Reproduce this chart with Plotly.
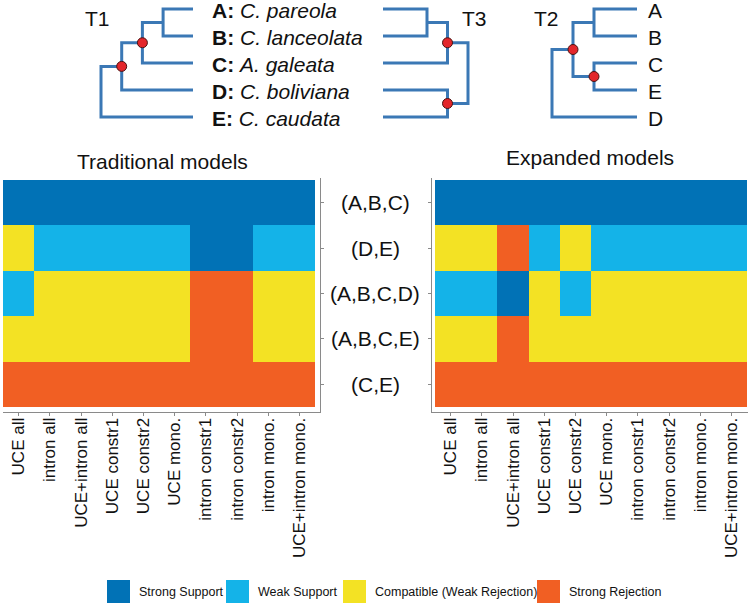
import plotly.graph_objects as go

# ---------------- data ----------------
rows = ["(A,B,C)", "(D,E)", "(A,B,C,D)", "(A,B,C,E)", "(C,E)"]
columns = ["UCE all", "intron all", "UCE+intron all", "UCE constr1", "UCE constr2",
           "UCE mono.", "intron constr1", "intron constr2", "intron mono.", "UCE+intron mono."]
support_levels = ["Strong Support", "Weak Support", "Compatible (Weak Rejection)", "Strong Rejection"]
level_colors = ["#0172b6", "#14b3e8", "#f3e224", "#f15f23"]

# level index per cell (0 strong support .. 3 strong rejection), rows x columns
traditional = [
    [0, 0, 0, 0, 0, 0, 0, 0, 0, 0],
    [2, 1, 1, 1, 1, 1, 0, 0, 1, 1],
    [1, 2, 2, 2, 2, 2, 3, 3, 2, 2],
    [2, 2, 2, 2, 2, 2, 3, 3, 2, 2],
    [3, 3, 3, 3, 3, 3, 3, 3, 3, 3],
]
expanded = [
    [0, 0, 0, 0, 0, 0, 0, 0, 0, 0],
    [2, 2, 3, 1, 2, 1, 1, 1, 1, 1],
    [1, 1, 0, 2, 1, 2, 2, 2, 2, 2],
    [2, 2, 3, 2, 2, 2, 2, 2, 2, 2],
    [3, 3, 3, 3, 3, 3, 3, 3, 3, 3],
]
panel_titles = ["Traditional models", "Expanded models"]

taxa = ["A", "B", "C", "D", "E"]
taxa_names = ["C. pareola", "C. lanceolata", "A. galeata", "C. boliviana", "C. caudata"]

tree_T1 = ((((("A", "B"), "C"), "D"), "E"))
tree_T3 = ((("A", "B"), "C"), ("D", "E"))
tree_T2 = ((("A", "B"), ("C", "E")), "D")

# ---------------- styling ----------------
W, H = 750, 603
FONT = "Liberation Sans, Arial, sans-serif"
TREE_COLOR = "#3b78b5"
DOT_COLOR = "#e3262b"
AXIS_COLOR = "#8a8a8a"

def py(p):  # pixel y -> paper
    return 1 - p / H

def px(p):
    return p / W

fig = go.Figure()

colorscale = [[i / 3, c] for i, c in enumerate(level_colors)]
ncol = len(columns)
nrow = len(rows)
xs = list(range(ncol))
ys = list(range(nrow))

fig.add_trace(go.Heatmap(z=traditional, x=xs, y=ys, colorscale=colorscale, zmin=0, zmax=3,
                         showscale=False, hoverinfo="skip", xaxis="x", yaxis="y"))
fig.add_trace(go.Heatmap(z=expanded, x=xs, y=ys, colorscale=colorscale, zmin=0, zmax=3,
                         showscale=False, hoverinfo="skip", xaxis="x2", yaxis="y2"))

# ---------------- trees ----------------
def draw_tree(tree, root_x, step, tip_x, tip_y0=9, tip_dy=27):
    counter = [0]
    paths_x, paths_y = [], []
    nodes = []

    def rec(node, depth):
        if isinstance(node, str):
            y = tip_y0 + tip_dy * counter[0]
            counter[0] += 1
            return (tip_x, y, frozenset([node]))
        kids = [rec(c, depth + 1) for c in node]
        x = root_x + step * depth
        kys = [k[1] for k in kids]
        y = (min(kys) + max(kys)) / 2
        a, b = kids[0], kids[-1]
        paths_x.extend([a[0], x, x, b[0], None])
        paths_y.extend([a[1], a[1], b[1], b[1], None])
        clade = frozenset().union(*[k[2] for k in kids])
        nodes.append((x, y, clade))
        return (x, y, clade)

    rec(tree, 0)
    fig.add_trace(go.Scatter(x=paths_x, y=paths_y, mode="lines", xaxis="x3", yaxis="y3",
                             line=dict(color=TREE_COLOR, width=3), hoverinfo="skip",
                             showlegend=False))
    marked = [frozenset(r.strip("()").split(",")) for r in rows]
    dx = [n[0] for n in nodes if n[2] in marked]
    dy = [n[1] for n in nodes if n[2] in marked]
    fig.add_trace(go.Scatter(x=dx, y=dy, mode="markers", xaxis="x3", yaxis="y3",
                             marker=dict(color=DOT_COLOR, size=10,
                                         line=dict(color="#4a1212", width=1)),
                             hoverinfo="skip", showlegend=False))

draw_tree(tree_T1, 101, 20.7, 193)
draw_tree(tree_T3, 468, -20.5, 383)
draw_tree(tree_T2, 552, 21, 637)

annotations = []
# T1 tip labels
for i, (t, nm) in enumerate(zip(taxa, taxa_names)):
    annotations.append(dict(x=210, y=10 + 27 * i, xref="x3", yref="y3", xanchor="left",
                            yanchor="middle", showarrow=False,
                            text=f"<b>{t}:</b> <i>{nm}</i>",
                            font=dict(family=FONT, size=21, color="#111")))

def tip_order(node):
    if isinstance(node, str):
        return [node]
    out = []
    for c in node:
        out += tip_order(c)
    return out

for i, t in enumerate(tip_order(tree_T2)):
    annotations.append(dict(x=646, y=10 + 27 * i, xref="x3", yref="y3", xanchor="left",
                            yanchor="middle", showarrow=False, text=t,
                            font=dict(family=FONT, size=21, color="#111")))
for name, xc in [("T1", 97), ("T3", 474), ("T2", 546)]:
    annotations.append(dict(x=xc, y=18, xref="x3", yref="y3", showarrow=False, text=name,
                            xanchor="center", yanchor="middle",
                            font=dict(family=FONT, size=21, color="#111")))

# panel titles
annotations.append(dict(x=px(162), y=py(161), xref="paper", yref="paper", showarrow=False,
                        xanchor="center", yanchor="middle",
                        text=panel_titles[0], font=dict(family=FONT, size=21, color="#111")))
annotations.append(dict(x=px(590), y=py(157), xref="paper", yref="paper", showarrow=False,
                        xanchor="center", yanchor="middle",
                        text=panel_titles[1], font=dict(family=FONT, size=21, color="#111")))

# row labels centred between panels
for i, r in enumerate(rows):
    annotations.append(dict(x=px(375), y=i, xref="paper", yref="y", showarrow=False,
                            text=r, xanchor="center", yanchor="middle",
                            font=dict(family=FONT, size=21, color="#111")))

# legend
shapes = []
legend_sq = [107, 226, 343, 537]
for lv, col, x0 in zip(support_levels, level_colors, legend_sq):
    shapes.append(dict(type="rect", xref="paper", yref="paper", x0=px(x0), x1=px(x0 + 23),
                       y0=py(603), y1=py(580), fillcolor=col, line=dict(width=0)))
    annotations.append(dict(x=px(x0 + 30), y=py(592), xref="paper", yref="paper",
                            showarrow=False, text=lv, xanchor="left", yanchor="middle",
                            font=dict(family=FONT, size=12.5, color="#111")))

# ---------------- axes ----------------
cell = 31.2
row_h = 45.4
y_dom = [py(412), py(178)]
y_range = [nrow - 0.5 + 5 / row_h, -0.5 - 2 / row_h]

common_x = dict(tickmode="array", tickvals=xs, ticktext=columns, tickangle=-90,
                ticks="outside", ticklen=3, tickcolor=AXIS_COLOR, showline=True,
                linecolor=AXIS_COLOR, linewidth=1, showgrid=False, zeroline=False,
                ticklabelstandoff=-5,
                tickfont=dict(family=FONT, size=17, color="#111"), fixedrange=True)
common_y = dict(tickmode="array", tickvals=ys, ticktext=["" for _ in ys], ticks="outside",
                ticklen=3, tickcolor=AXIS_COLOR, showline=True, linecolor=AXIS_COLOR,
                linewidth=1, showgrid=False, zeroline=False, range=y_range, domain=y_dom,
                fixedrange=True)

left_w = 320 - 3
right_w = 748 - 432
fig.update_layout(
    width=W, height=H, margin=dict(l=0, r=0, t=0, b=0),
    paper_bgcolor="white", plot_bgcolor="white", showlegend=False,
    xaxis=dict(domain=[px(3), px(320)], range=[-0.5, -0.5 + left_w / cell], anchor="y",
               **common_x),
    yaxis=dict(side="right", anchor="x", **common_y),
    xaxis2=dict(domain=[px(432), px(748)], range=[-0.5 - 3 / cell, -0.5 - 3 / cell + right_w / cell],
                anchor="y2", **common_x),
    yaxis2=dict(side="left", anchor="x2", **common_y),
    xaxis3=dict(domain=[0, 1], range=[0, W], visible=False, anchor="y3", fixedrange=True),
    yaxis3=dict(domain=[py(140), 1], range=[140, 0], visible=False, anchor="x3", fixedrange=True),
    annotations=annotations, shapes=shapes,
)

fig.write_html("out.html", config={"displayModeBar": False},
               post_script="document.body.style.margin='0';document.body.style.padding='0';"
                           "document.body.style.overflow='hidden';")
